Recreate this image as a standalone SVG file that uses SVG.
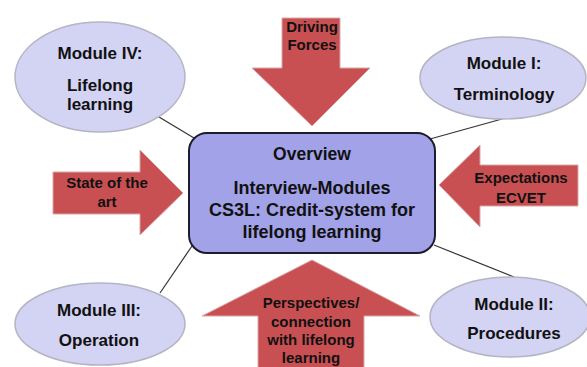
<svg xmlns="http://www.w3.org/2000/svg" width="587" height="367" viewBox="0 0 587 367">
<style>
.ell{fill:#d3d3f3;stroke:#b4b4c4;stroke-width:1.5}
.box{fill:#a2a2e8;stroke:#1c1c2c;stroke-width:2}
.arr{fill:#c85052;stroke:#d8a8a8;stroke-width:1}
.t{font-family:"Liberation Sans",Arial,sans-serif;font-weight:bold;fill:#111;text-anchor:middle}
.m{font-size:17px}
.o{font-size:18px}
.a{font-size:15px}
.con line{stroke:#333;stroke-width:1.2}
</style>
<g id="arrow-driving">
<polygon class="arr" points="282,18 340,18 340,68 370,68 312,126 252,68 282,68"/>
<text class="t a" x="312" y="32">Driving</text>
<text class="t a" x="312" y="50">Forces</text>
</g>
<g id="arrow-state">
<polygon class="arr" points="53,172 140,172 140,150 183,193 140,235 140,214 53,214"/>
<text class="t a" x="107" y="188">State of the</text>
<text class="t a" x="107" y="207">art</text>
</g>
<g id="arrow-expectations">
<polygon class="arr" points="578,165 480,165 480,145 439,185 480,227 480,206 578,206"/>
<text class="t a" x="521" y="183">Expectations</text>
<text class="t a" x="521" y="203">ECVET</text>
</g>
<g id="arrow-perspectives">
<polygon class="arr" points="258,368 258,316 202,316 312,260 420,316 364,316 364,368"/>
<text class="t a" x="311" y="308">Perspectives/</text>
<text class="t a" x="311" y="327">connection</text>
<text class="t a" x="311" y="345">with lifelong</text>
<text class="t a" x="311" y="363">learning</text>
</g>
<g id="connectors" class="con">
<line x1="159" y1="117" x2="194" y2="138"/>
<line x1="502" y1="119" x2="430" y2="139"/>
<line x1="160" y1="293" x2="192" y2="246"/>
<line x1="434" y1="245" x2="514" y2="277"/>
</g>
<g id="overview">
<rect class="box" x="189" y="133" width="246" height="120" rx="18" ry="18"/>
<text class="t o" x="312" y="160" style="font-size:17.5px">Overview</text>
<text class="t o" x="312" y="194">Interview-Modules</text>
<text class="t o" x="312" y="216">CS3L: Credit-system for</text>
<text class="t o" x="312" y="238">lifelong learning</text>
</g>
<g id="module-iv">
<ellipse class="ell" cx="100" cy="77" rx="85" ry="55"/>
<text class="t m" x="100" y="59">Module IV:</text>
<text class="t m" x="100" y="91">Lifelong</text>
<text class="t m" x="100" y="110">learning</text>
</g>
<g id="module-i">
<ellipse class="ell" cx="503" cy="78" rx="83" ry="41"/>
<text class="t m" x="504" y="69">Module I:</text>
<text class="t m" x="504" y="100">Terminology</text>
</g>
<g id="module-iii">
<ellipse class="ell" cx="100" cy="324" rx="85" ry="41"/>
<text class="t m" x="99" y="316">Module III:</text>
<text class="t m" x="99" y="346">Operation</text>
</g>
<g id="module-ii">
<ellipse class="ell" cx="510" cy="317" rx="80" ry="40"/>
<text class="t m" x="514" y="310">Module II:</text>
<text class="t m" x="514" y="339">Procedures</text>
</g>
</svg>
